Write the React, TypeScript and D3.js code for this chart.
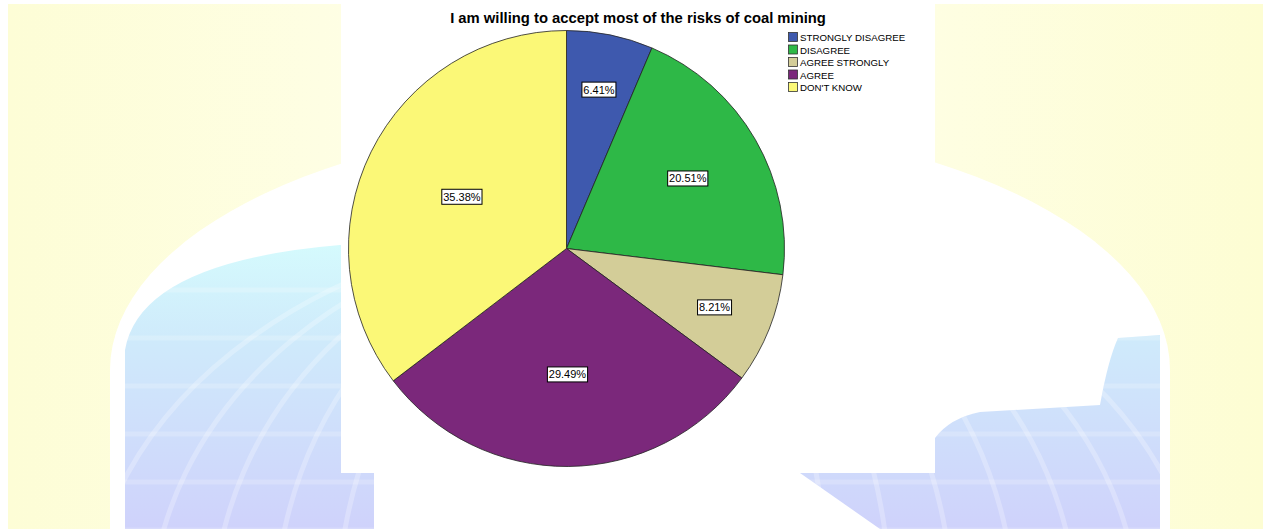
import React from "react";
import * as d3 from "d3";

const categories = ["STRONGLY DISAGREE", "DISAGREE", "AGREE STRONGLY", "AGREE", "DON'T KNOW"];
const percents = [6.41, 20.51, 8.21, 29.49, 35.38];
const colors = ["#3e59ae", "#2eb847", "#d3cd98", "#7b287b", "#fbf877"];
const title = "I am willing to accept most of the risks of coal mining";

const W = 1263;
const H = 529;

export default function App() {
  const cx = 566.5;
  const cy = 248.5;
  const R = 218;
  const data = categories.map((c, i) => ({ name: c, value: percents[i], color: colors[i] }));
  const pie = d3.pie<any>().value((d: any) => d.value).sort(null);
  const arcs = pie(data);
  const arcGen = d3.arc<any>().innerRadius(0).outerRadius(R);

  // decorative background shapes
  const whiteShape = "M110,529 L110,370 A530,250 0 0 1 1170,370 L1170,529 Z";
  const blueShape =
    "M125,529 L125,350 Q140,262 340,245 L935,245 L935,438 Q950,418 980,412 L1100,405 Q1108,360 1118,338 L1160,335 L1160,529 Z";

  const gridLines: JSX.Element[] = [];
  for (let k = 0; k < 9; k++) {
    gridLines.push(
      <ellipse key={"g" + k} cx={645} cy={620} rx={60 + k * 62} ry={400} fill="none" stroke="#ffffff" strokeOpacity={0.25} strokeWidth={5} />
    );
  }
  for (let k = 0; k < 6; k++) {
    gridLines.push(
      <line key={"h" + k} x1={100} x2={1200} y1={290 + k * 48} y2={290 + k * 48} stroke="#ffffff" strokeOpacity={0.2} strokeWidth={5} />
    );
  }

  return (
    <svg width={W} height={H} style={{ position: "absolute", left: 0, top: 0 }} fontFamily="Arial, 'Liberation Sans', sans-serif">
      <defs>
        <linearGradient id="bgY" x1="0" x2="1" y1="0" y2="0">
          <stop offset="0" stopColor="#fdfdd6" />
          <stop offset="0.5" stopColor="#fffff0" />
          <stop offset="1" stopColor="#fdfdd3" />
        </linearGradient>
        <linearGradient id="globe" x1="0" x2="0" y1="240" y2="529" gradientUnits="userSpaceOnUse">
          <stop offset="0" stopColor="#d5fbfd" />
          <stop offset="0.35" stopColor="#cfeafb" />
          <stop offset="1" stopColor="#cfd2fb" />
        </linearGradient>
        <clipPath id="globeClip">
          <path d={blueShape} />
        </clipPath>
      </defs>
      <rect x={0} y={0} width={W} height={H} fill="#ffffff" />
      <rect x={8} y={4} width={W - 8} height={H - 4} fill="url(#bgY)" />
      <path d={whiteShape} fill="#ffffff" />
      <path d={blueShape} fill="url(#globe)" />
      <g clipPath="url(#globeClip)">{gridLines}</g>
      <path d="M374,473 L800,473 L880,529 L374,529 Z" fill="#ffffff" />
      <rect x={341} y={0} width={594} height={473} fill="#ffffff" />

      <text x={638} y={23} textAnchor="middle" fontSize={14.8} fontWeight="bold" fill="#000">
        {title}
      </text>

      <g transform={`translate(${cx},${cy})`}>
        {arcs.map((a, i) => (
          <path key={i} d={arcGen(a) as string} fill={a.data.color} stroke="#222" strokeWidth={0.8} />
        ))}
        {arcs.map((a, i) => {
          const mid = (a.startAngle + a.endAngle) / 2;
          const rf = 0.79 - 0.0072 * a.data.value;
          const x = Math.sin(mid) * R * rf;
          const y = -Math.cos(mid) * R * rf;
          const label = a.data.value.toFixed(2) + "%";
          const w = label.length * 6.2 + 3;
          return (
            <g key={"l" + i} transform={`translate(${x},${y})`}>
              <rect x={-w / 2} y={-7.5} width={w} height={15} fill="#fff" stroke="#000" strokeWidth={1} />
              <text x={0} y={4} textAnchor="middle" fontSize={11} fill="#000">
                {label}
              </text>
            </g>
          );
        })}
      </g>

      <g transform="translate(788,32)">
        {data.map((d, i) => (
          <g key={d.name} transform={`translate(0,${i * 12.5})`}>
            <rect x={0.5} y={0.5} width={9} height={9} fill={d.color} stroke="#333" strokeWidth={0.8} />
            <text x={12} y={9} fontSize={9.7} fill="#000">
              {d.name}
            </text>
          </g>
        ))}
      </g>
    </svg>
  );
}
